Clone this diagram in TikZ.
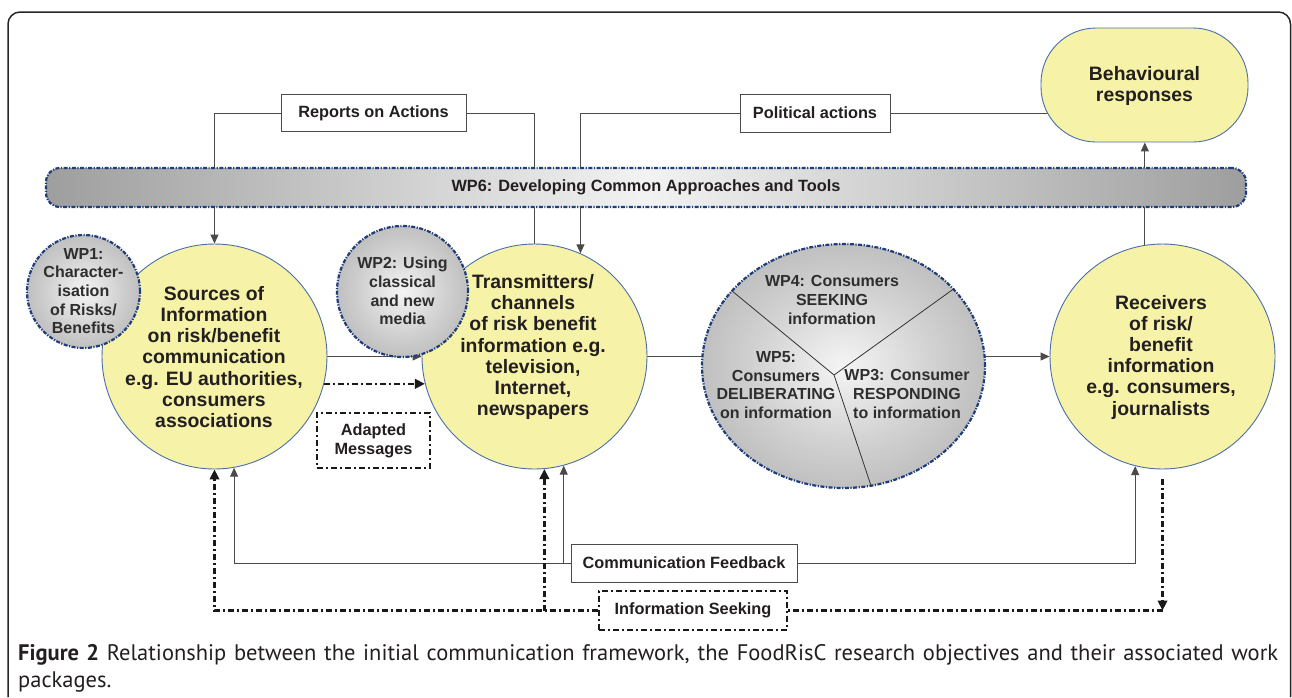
\documentclass[tikz,border=0pt]{standalone}
\usepackage{fontspec}
\setmainfont{Liberation Sans}
\newfontfamily\capfont{PT Sans}
\usetikzlibrary{arrows.meta,shapes.geometric,backgrounds}
\definecolor{yel}{HTML}{F6F3A8}
\definecolor{yelbd}{HTML}{4A6EA8}
\definecolor{navy}{HTML}{1F3D7A}
\definecolor{txt}{HTML}{231F20}
\definecolor{wptext}{HTML}{2E2E2E}
\definecolor{ln}{HTML}{4A4A4A}
\pgfdeclareradialshading{wpball}{\pgfpoint{0bp}{0bp}}{color(0bp)=(black!4); color(16bp)=(black!18); color(36bp)=(black!33); color(50bp)=(black!42)}
\begin{document}
\begin{tikzpicture}[x=1pt,y=-1pt,
  conn/.style={draw=ln, line width=1pt},
  arr/.style={-{Triangle[length=9pt,width=8pt]}},
  dd/.style={draw=black!90, line width=2.3pt, dash pattern=on 6pt off 3pt on 2pt off 3pt},
  darr/.style={-{Triangle[length=10pt,width=9.5pt]}},
  ycirc/.style={circle, draw=yelbd, line width=0.9pt, fill=yel, inner sep=0pt, minimum size=225pt},
  gborder/.style={draw=navy, line width=2.2pt, dash pattern=on 4pt off 1.5pt on 1.2pt off 1.5pt},
  gcirc/.style={circle, gborder, shade, shading=wpball, inner sep=0pt},
  bigtxt/.style={align=center, text=txt, inner sep=0pt, font=\bfseries\fontsize{19.4}{21.2}\selectfont},
  wptxt/.style={align=center, text=wptext, inner sep=0pt, font=\bfseries\fontsize{16}{18.7}\selectfont},
  lbox/.style={draw=ln, line width=1pt, fill=white, inner sep=0pt, text=txt, align=center, font=\bfseries\fontsize{16.3}{18.7}\selectfont},
  dbox/.style={lbox, draw=black!90, line width=2.1pt, dash pattern=on 6pt off 3pt on 2pt off 3pt},
]
\useasboundingbox (0,0) rectangle (1292,697);

% main circles
\node[ycirc] (src) at (214.5,356.5) {};
\node[ycirc] (tr) at (534.5,356.5) {};
\node[ycirc] (rc) at (1162.5,356.5) {};
\node[rectangle, rounded corners=55pt, draw=yelbd, line width=0.9pt, fill=yel,
      minimum width=207pt, minimum height=114pt] (beh) at (1144.5,85) {};

% work package circles
\node[gcirc, minimum size=113pt] (wp1) at (83.5,291.5) {};
\node[gcirc, minimum size=131pt] (wp2) at (402.5,291.5) {};
\node[ellipse, gborder, shade, shading=wpball, inner sep=0pt,
      minimum width=283pt, minimum height=244pt] (wpc) at (843.5,366) {};
\coordinate (wpm) at (834,375);
\draw[line width=0.8pt, draw=black!80] (wpm) -- (wpc.146.2) (wpm) -- (wpc.35.9) (wpm) -- (wpc.-77.2);

% WP6 bar
\node[rectangle, rounded corners=14pt, gborder, left color=black!38, right color=black!38, middle color=black!5,
      minimum width=1200pt, minimum height=39pt, text=txt,
      font=\bfseries\fontsize{16.3}{18.7}\selectfont] (wp6) at (646,187.5) {WP6: Developing Common Approaches and Tools};

% texts
\node[bigtxt] (srcT) at (214,357) {Sources of\\Information\\on risk/benefit\\communication\\e.g. EU authorities,\\consumers\\associations};
\node[bigtxt] (trT) at (533,347) {Transmitters/\\channels\\of risk benefit\\information e.g.\\television,\\Internet,\\newspapers};
\node[bigtxt] (rcT) at (1161,357) {Receivers\\of risk/\\benefit\\information\\e.g. consumers,\\journalists};
\node[bigtxt] (behT) at (1144.5,86) {Behavioural\\responses};
\node[wptxt] (wp1T) at (83.5,291) {WP1:\\Character-\\isation\\of Risks/\\Benefits};
\node[wptxt] (wp2T) at (402.5,291) {WP2: Using\\classical\\and new\\media};
\node[wptxt] (wp4T) at (832,300) {WP4: Consumers\\SEEKING\\information};
\node[wptxt] (wp5T) at (776,385) {WP5:\\Consumers\\DELIBERATING\\on information};
\node[wptxt] (wp3T) at (907,394) {WP3: Consumer\\RESPONDING\\to information};

% label boxes
\node[lbox, minimum width=185pt, minimum height=37pt] (rep) at (373.5,113) {Reports on Actions};
\node[lbox, minimum width=150pt, minimum height=38pt] (pol) at (815,113) {Political actions};
\node[dbox, minimum width=113pt, minimum height=55pt] (adapt) at (373.5,440.5) {Adapted\\Messages};
\node[lbox, minimum width=226pt, minimum height=38pt] (cfb) at (684,563) {Communication Feedback};
\node[dbox, minimum width=188pt, minimum height=39pt] (iseek) at (693,610.5) {Information Seeking};

% caption
\node[anchor=base west, inner sep=0pt, text=txt, font=\capfont\fontsize{22.5}{27}\selectfont] (cap1) at (18,660)
  {\makebox[1260pt][s]{\textbf{Figure 2} Relationship between the initial communication framework, the FoodRisC research objectives and their associated work}};
\node[anchor=base west, inner sep=0pt, text=txt, font=\capfont\fontsize{22.5}{27}\selectfont] (cap2) at (18,687) {packages.};

% connectors and frame behind
\begin{scope}[on background layer]
  \draw[line width=1.5pt, draw=black!85, rounded corners=12pt] (8,697) -- (8,12) -- (1290.5,12) -- (1290.5,697);
  \draw[conn] (tr.north) |- (rep.east);
  \draw[conn,arr] (rep.west) -| (src.north);
  \draw[conn] (beh.center |- pol.east) -- (pol.east);
  \draw[conn,arr] (pol.west) -| (tr.66.2);
  \draw[conn,arr] (rc.99.5) -- (rc.99.5 |- beh.south);
  \draw[conn,arr] (src.east) -- (tr.west);
  \draw[dd,darr] (src.-14.1) -- (tr.194.1);
  \draw[conn] (tr.east) -- (tr.east -| wpc.center);
  \draw[conn,arr] (tr.east -| wpc.center) -- (rc.west);
  \draw[conn,arr] (cfb.west) -| (src.-80);
  \draw[conn,arr] (tr.-75.85 |- cfb.west) -- (tr.-75.85);
  \draw[conn,arr] (cfb.east) -| (rc.-104.15);
  \draw[dd,darr] ([yshift=-9.5pt]rc.south) -- (rc.south |- iseek.east);
  \draw[dd] (rc.south |- iseek.east) -- (iseek.east);
  \draw[dd,darr] (iseek.west) -| (src.south);
  \draw[dd,darr] (tr.-85.66 |- iseek.west) -- (tr.-85.66);
\end{scope}
\end{tikzpicture}
\end{document}
